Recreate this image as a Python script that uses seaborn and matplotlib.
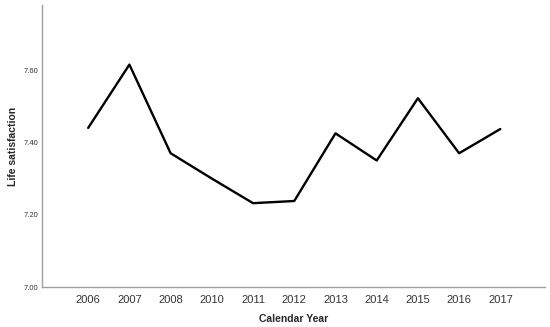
import pandas as pd
import seaborn as sb
import matplotlib.pyplot as plt

# data
years = ['2006', '2007', '2008', '2010', '2011', '2012',
         '2013', '2014', '2015', '2016', '2017']
life_sat = [7.44, 7.615, 7.37, 7.30, 7.232, 7.238,
            7.425, 7.35, 7.522, 7.37, 7.437]
y_ticks = [7.00, 7.20, 7.40, 7.60]

df = pd.DataFrame({'Calendar Year': years, 'Life satisfaction': life_sat})

# ------------------------------------------------------------------------------
sb.set_style('white')
plt.rcParams['font.family'] = ['Liberation Sans', 'DejaVu Sans']

fig = plt.figure(figsize=(5.5, 3.27), dpi=100)
ax = fig.add_axes([0.0764, 0.122, 0.915, 0.863])

g = sb.lineplot(data=df, x='Calendar Year', y='Life satisfaction',
                color='black', linewidth=1.7, sort=False, ax=ax)

g.set_xlim(-1.12, 11.09)
g.set_ylim(7.00, 7.78)
g.set_yticks(y_ticks, labels=['%.2f' % t for t in y_ticks])

g.tick_params(axis='y', labelsize=5.5, colors='#333333', length=0, pad=3)
g.tick_params(axis='x', labelsize=8, colors='#333333', length=0, pad=6)

g.set_xlabel('Calendar Year', fontsize=7.5, fontweight='bold', va='center')
g.set_ylabel('Life satisfaction', fontsize=7.5, fontweight='bold', va='center')
g.xaxis.set_label_coords(0.5, -0.113)
g.yaxis.set_label_coords(-0.058, 0.5)

sb.despine(ax=g)
for s in ['left', 'bottom']:
  g.spines[s].set_color('#a0a0a0')
  g.spines[s].set_linewidth(1.0)

fig.savefig('out.png', dpi=100)
plt.close('all')
